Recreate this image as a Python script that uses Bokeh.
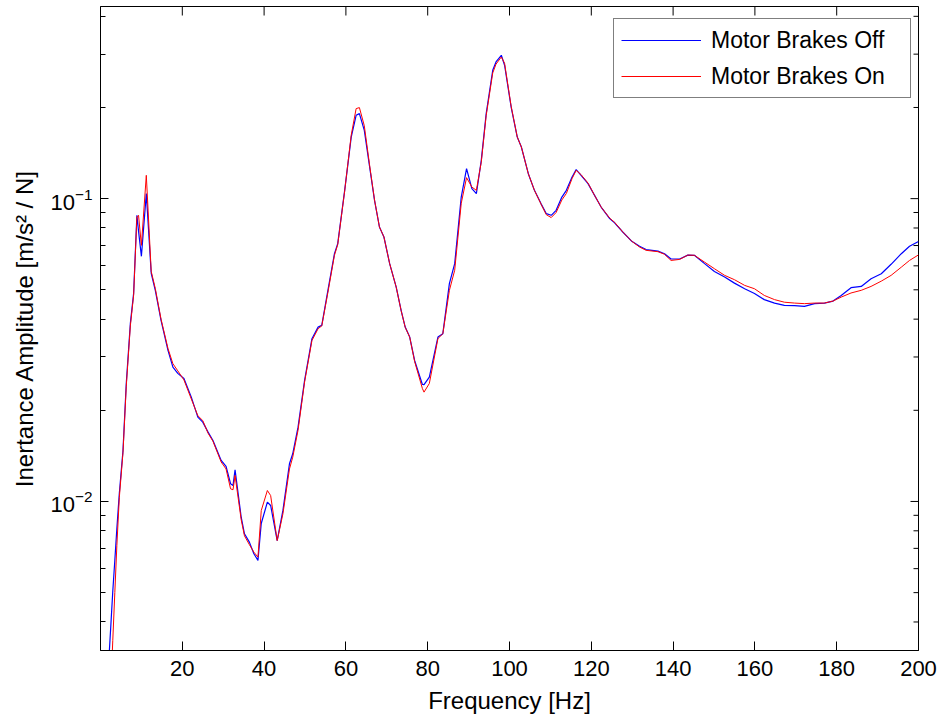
import math
from bokeh.plotting import figure
from bokeh.models import Range1d, FixedTicker, Legend, LegendItem
from bokeh.embed import file_html
from bokeh.resources import INLINE

freq = [1.5, 2.0, 2.5, 3.0, 3.5, 4.0, 4.6, 5.5, 6.3, 7.3, 8.1, 8.9, 9.3, 10.0, 11.2,
        12.4, 13.4, 14.8, 16.5, 17.7, 18.9, 20.4, 22.2, 23.8, 25.0, 26.3, 27.5, 29.5,
        30.7, 31.8, 32.4, 32.9, 34.4, 35.2, 36.4, 37.5, 38.5, 39.3, 40.8, 41.6, 43.2,
        44.6, 46.2, 47.0, 48.3, 49.9, 51.7, 53.2, 54.1, 55.6, 57.2, 58.0, 59.7, 61.3,
        62.5, 63.3, 64.5, 65.8, 67.0, 68.2, 69.3, 70.7, 72.3, 73.5, 74.5, 75.6, 76.8,
        78.7, 79.1, 80.4, 82.5, 83.7, 85.3, 86.6, 88.2, 89.5, 90.8, 91.9, 93.1, 94.3,
        95.9, 96.7, 98.0, 98.8, 100.4, 101.9, 102.9, 104.6, 106.1, 107.7, 109.0, 110.2,
        111.4, 112.8, 113.9, 115.3, 116.3, 117.5, 119.2, 120.8, 122.4, 124.5, 125.7,
        127.7, 129.8, 131.8, 133.4, 136.3, 137.9, 139.5, 141.6, 143.6, 145.2, 147.7,
        150.1, 152.6, 155.0, 157.5, 159.9, 162.3, 164.8, 167.2, 169.7, 172.1, 174.6,
        177.0, 179.1, 181.1, 183.5, 186.0, 188.4, 190.9, 193.3, 195.8, 197.8, 200.0]

brakes_off = [0.00223, 0.00294, 0.00384, 0.00504, 0.00638, 0.00814, 0.01063, 0.01474,
              0.02453, 0.03873, 0.04866, 0.0881, 0.0781, 0.0645, 0.1039, 0.0567, 0.0498,
              0.0396, 0.03155, 0.02778, 0.02648, 0.02548, 0.02211, 0.01899, 0.01828,
              0.01694, 0.0159, 0.01366, 0.01305, 0.01144, 0.0113, 0.01273, 0.00887,
              0.00782, 0.00734, 0.00672, 0.00639, 0.00846, 0.00995, 0.0097, 0.00743,
              0.00934, 0.01332, 0.01437, 0.01759, 0.0251, 0.03448, 0.03765, 0.03814,
              0.04977, 0.06581, 0.0710, 0.1065, 0.1597, 0.1885, 0.1909, 0.1681, 0.1272,
              0.0987, 0.0806, 0.0747, 0.061, 0.05105, 0.04276, 0.03765, 0.0349, 0.02922,
              0.02434, 0.0243, 0.02574, 0.0349, 0.03581, 0.0524, 0.061, 0.1012, 0.1256,
              0.1079, 0.1039, 0.1338, 0.1909, 0.2654, 0.2827, 0.2974, 0.2757, 0.2007,
              0.1597, 0.1481, 0.1209, 0.1065, 0.0963, 0.0892, 0.0881, 0.0915, 0.1012,
              0.1065, 0.1179, 0.1247, 0.1194, 0.1121, 0.1025, 0.0938, 0.0859, 0.0832,
              0.0776, 0.0725, 0.0696, 0.0679, 0.0671, 0.0658, 0.0632, 0.0632, 0.0651,
              0.065, 0.0610, 0.0575, 0.0551, 0.0526, 0.0504, 0.0486, 0.0464, 0.0452,
              0.0444, 0.0443, 0.0441, 0.045, 0.0452, 0.0459, 0.0479, 0.0508, 0.0513,
              0.0544, 0.0565, 0.0607, 0.0658, 0.0696, 0.0722]

brakes_on = [0.0012, 0.00166, 0.00239, 0.00347, 0.00500, 0.00716, 0.0103, 0.0145,
             0.0240, 0.0380, 0.0480, 0.0870, 0.0881, 0.0701, 0.1194, 0.0575, 0.0505,
             0.0400, 0.0320, 0.0285, 0.0270, 0.0252, 0.0218, 0.0192, 0.0185, 0.0168,
             0.0158, 0.0135, 0.0128, 0.01101, 0.01093, 0.01219, 0.0087, 0.0077, 0.0072,
             0.0068, 0.00655, 0.00933, 0.01087, 0.01046, 0.00743, 0.0091, 0.0128, 0.0140,
             0.0172, 0.0248, 0.0340, 0.0372, 0.0380, 0.0490, 0.0650, 0.0705, 0.1060,
             0.1620, 0.1983, 0.1998, 0.1740, 0.1290, 0.0990, 0.0806, 0.0747, 0.061,
             0.0510, 0.0427, 0.0376, 0.0349, 0.0290, 0.02361, 0.02296, 0.02453, 0.0345,
             0.0358, 0.04977, 0.058, 0.0965, 0.1173, 0.1092, 0.1065, 0.1320, 0.1880,
             0.2600, 0.2780, 0.2936, 0.2800, 0.2020, 0.1597, 0.1481, 0.1209, 0.1065,
             0.0960, 0.0885, 0.0866, 0.0900, 0.0990, 0.1040, 0.1165, 0.1240, 0.1200,
             0.1125, 0.1025, 0.0938, 0.0862, 0.0835, 0.0776, 0.0725, 0.0692, 0.0675,
             0.0668, 0.0655, 0.0625, 0.0630, 0.0651, 0.065, 0.0617, 0.0587, 0.0558,
             0.054, 0.0517, 0.0504, 0.0479, 0.0464, 0.0455, 0.0452, 0.045, 0.0452,
             0.0452, 0.0459, 0.0473, 0.0488, 0.0498, 0.0513, 0.0534, 0.0558, 0.0594,
             0.0625, 0.0652]

x_ticks = [20, 40, 60, 80, 100, 120, 140, 160, 180, 200]
y_major = [0.01, 0.1]
y_minor = [0.004, 0.005, 0.006, 0.007, 0.008, 0.009,
           0.02, 0.03, 0.04, 0.05, 0.06, 0.07, 0.08, 0.09,
           0.2, 0.3, 0.4]

X_MIN, X_MAX = 0, 200
Y_MIN, Y_MAX = 0.00322, 0.431
FONT = "Liberation Sans"

p = figure(width=939, height=721, output_backend="svg", toolbar_location=None,
           y_axis_type="log", x_range=Range1d(X_MIN, X_MAX), y_range=Range1d(Y_MIN, Y_MAX),
           min_border_left=100, min_border_right=21, min_border_top=6, min_border_bottom=71)
p.grid.visible = False
p.outline_line_color = "black"
p.outline_line_width = 1
p.background_fill_color = "white"
p.border_fill_color = "white"


def style(ax):
    ax.axis_line_color = "black"
    ax.axis_line_width = 1
    ax.major_tick_line_color = "black"
    ax.minor_tick_line_color = "black"
    ax.major_tick_out = 0
    ax.minor_tick_out = 0
    ax.major_tick_in = 8
    ax.minor_tick_in = 5
    ax.major_label_text_font = FONT
    ax.major_label_text_font_size = "22px"
    ax.major_label_text_color = "black"
    ax.axis_label_text_font = FONT
    ax.axis_label_text_font_size = "24px"
    ax.axis_label_text_font_style = "normal"
    ax.axis_label_text_color = "black"


xa = p.xaxis[0]
xa.ticker = FixedTicker(ticks=x_ticks)
style(xa)
xa.major_tick_in = 9
xa.major_label_standoff = 10
xa.axis_label = "Frequency [Hz]"
xa.axis_label_standoff = 8

ya = p.yaxis[0]
ya.ticker = FixedTicker(ticks=y_major, minor_ticks=y_minor)
style(ya)
ya.major_label_standoff = 8
ya.axis_label = "Inertance Amplitude [m/s² / N]"
ya.axis_label_standoff = 9

# mirrored inward ticks on the top and right edges (MATLAB box style);
# half of each dash marker is clipped by the frame, leaving an inward tick
p.scatter(x_ticks, [Y_MAX] * len(x_ticks), marker="dash", size=18, angle=math.pi / 2,
          line_color="black", line_width=1)
p.scatter([X_MAX] * len(y_major), y_major, marker="dash", size=16,
          line_color="black", line_width=1)
p.scatter([X_MAX] * len(y_minor), y_minor, marker="dash", size=10,
          line_color="black", line_width=1)

r_off = p.line(freq, brakes_off, line_color="#0000FF", line_width=1.2)
r_on = p.line(freq, brakes_on, line_color="#FF0000", line_width=1.0)

legend = Legend(items=[LegendItem(label="Motor Brakes Off", renderers=[r_off]),
                       LegendItem(label="Motor Brakes On", renderers=[r_on])],
                location=(513, 552), orientation="vertical")
legend.label_text_font = FONT
legend.label_text_font_size = "23px"
legend.label_text_color = "black"
legend.border_line_color = "black"
legend.border_line_width = 1
legend.background_fill_color = "white"
legend.background_fill_alpha = 1
legend.padding = 7
legend.spacing = 8
legend.label_height = 28
legend.glyph_height = 28
legend.glyph_width = 80
legend.label_standoff = 10
legend.label_width = 192
legend.margin = 0
p.add_layout(legend)

open("out.html", "w").write(file_html(p, INLINE))
